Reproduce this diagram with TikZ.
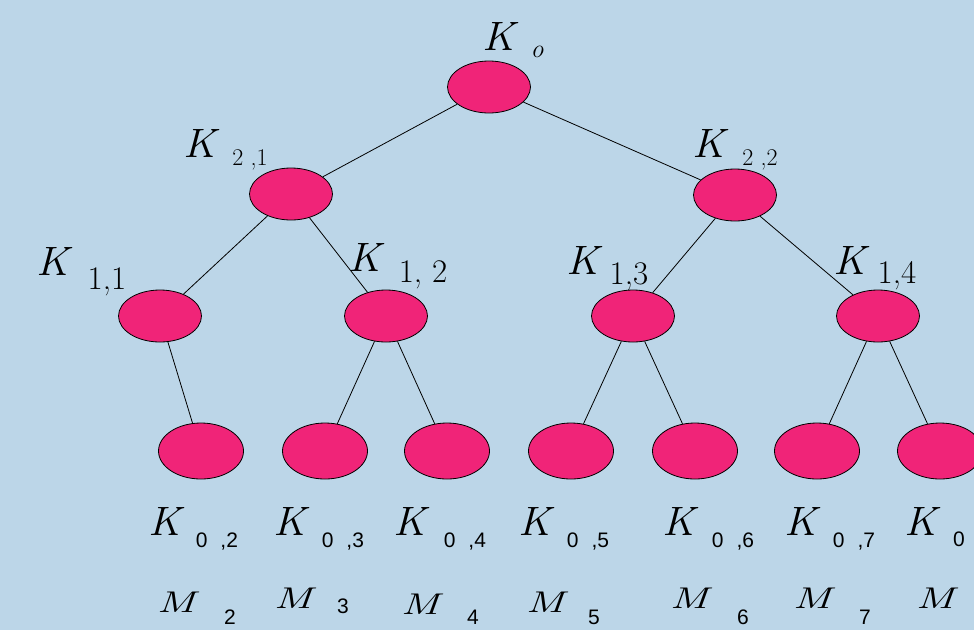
\documentclass[tikz,border=0pt]{standalone}
\usepackage{fontspec}
\newfontfamily\digsans[WordSpace=2.2]{Liberation Sans}
\usetikzlibrary{shapes.geometric}
\definecolor{bgblue}{RGB}{188,214,232}
\definecolor{keypink}{RGB}{240,36,120}
\tikzset{
  keynode/.style={ellipse,draw=black,line width=0.8pt,fill=keypink,inner sep=0pt,minimum width=83pt,minimum height=52pt},
  leafnode/.style={keynode,minimum width=85pt,minimum height=56pt},
  edge/.style={draw=black,line width=0.8pt},
  bigK/.style={inner sep=0pt,xscale=1.05,font=\rmfamily\itshape\fontsize{41}{41}\selectfont},
  bigM/.style={inner sep=0pt,xscale=1.45,font=\rmfamily\itshape\fontsize{30}{30}\selectfont},
  subA/.style={inner sep=0pt,font=\rmfamily\fontsize{24}{24}\selectfont},
  subB/.style={inner sep=0pt,font=\rmfamily\fontsize{33}{33}\selectfont},
  subC/.style={inner sep=0pt,font=\digsans\fontsize{21}{21}\selectfont},
}
\begin{document}
\begin{tikzpicture}[x=1pt,y=-1pt]
\useasboundingbox (0,0) rectangle (974,630);
\clip (0,0) rectangle (974,630);
\fill[bgblue] (0,0) rectangle (974,630);
% key nodes
\node[keynode] (k0) at (489,87) {};
\node[keynode] (k21) at (291,194) {};
\node[keynode] (k22) at (735,195) {};
\node[keynode] (k11) at (160,316) {};
\node[keynode] (k12) at (386,316) {};
\node[keynode] (k13) at (633,316) {};
\node[keynode] (k14) at (878,316) {};
\node[leafnode] (l2) at (201,451) {};
\node[leafnode] (l3) at (325,451) {};
\node[leafnode] (l4) at (447,451) {};
\node[leafnode] (l5) at (571,451) {};
\node[leafnode] (l6) at (695,451) {};
\node[leafnode] (l7) at (817,451) {};
\node[leafnode] (l8) at (940,451) {};
% connectors
\draw[edge] (k0) -- (k21);
\draw[edge] (k0) -- (k22);
\draw[edge] (k21) -- (k11);
\draw[edge] (k21) -- (k12);
\draw[edge] (k22) -- (k13);
\draw[edge] (k22) -- (k14);
\draw[edge] (k11) -- (l2);
\draw[edge] (k12) -- (l3);
\draw[edge] (k12) -- (l4);
\draw[edge] (k13) -- (l5);
\draw[edge] (k13) -- (l6);
\draw[edge] (k14) -- (l7);
\draw[edge] (k14) -- (l8);
% labels upper levels
\node[bigK] (tk0) at (499,36) {K};
\node[inner sep=0pt,font=\rmfamily\itshape\fontsize{26}{26}\selectfont] (tk0s) at (537,52) {o};
\node[bigK] (tk21) at (200,143) {K};
\node[subA] (tk21s) at (250,160) {2 ,1};
\node[bigK] (tk22) at (709,143) {K};
\node[subA] (tk22s) at (760,160) {2 ,2};
\node[bigK] (tk11) at (53,261) {K};
\node[subB] (tk11s) at (107,282) {1,1};
\node[bigK] (tk12) at (365,257) {K};
\node[subB] (tk12s) at (423,275) {1, 2};
\node[bigK] (tk13) at (583,260) {K};
\node[subB] (tk13s) at (629,277) {1,3};
\node[bigK] (tk14) at (850,260) {K};
\node[subB] (tk14s) at (897,276) {1,4};
% leaf K labels
\node[bigK] (tl2) at (165,521) {K};
\node[subC] (tl2s) at (217,541) {0 ,2};
\node[bigK] (tl3) at (290,521) {K};
\node[subC] (tl3s) at (343,541) {0 ,3};
\node[bigK] (tl4) at (410,521) {K};
\node[subC] (tl4s) at (465,541) {0 ,4};
\node[bigK] (tl5) at (535,521) {K};
\node[subC] (tl5s) at (588,541) {0 ,5};
\node[bigK] (tl6) at (679,521) {K};
\node[subC] (tl6s) at (733,541) {0 ,6};
\node[bigK] (tl7) at (801,521) {K};
\node[subC] (tl7s) at (854,541) {0 ,7};
\node[bigK] (tl8) at (921,521) {K};
\node[subC] (tl8s) at (959,539) {0};
% M labels
\node[bigM] (m2) at (176,602) {M};
\node[subC] (m2s) at (230,617) {2};
\node[bigM] (m3) at (293,598) {M};
\node[subC] (m3s) at (343,606) {3};
\node[bigM] (m4) at (420,604) {M};
\node[subC] (m4s) at (473,617) {4};
\node[bigM] (m5) at (545,602) {M};
\node[subC] (m5s) at (594,617) {5};
\node[bigM] (m6) at (689,598) {M};
\node[subC] (m6s) at (743,617) {6};
\node[bigM] (m7) at (812,598) {M};
\node[subC] (m7s) at (865,617) {7};
\node[bigM] (m8) at (935,598) {M};
\end{tikzpicture}
\end{document}
